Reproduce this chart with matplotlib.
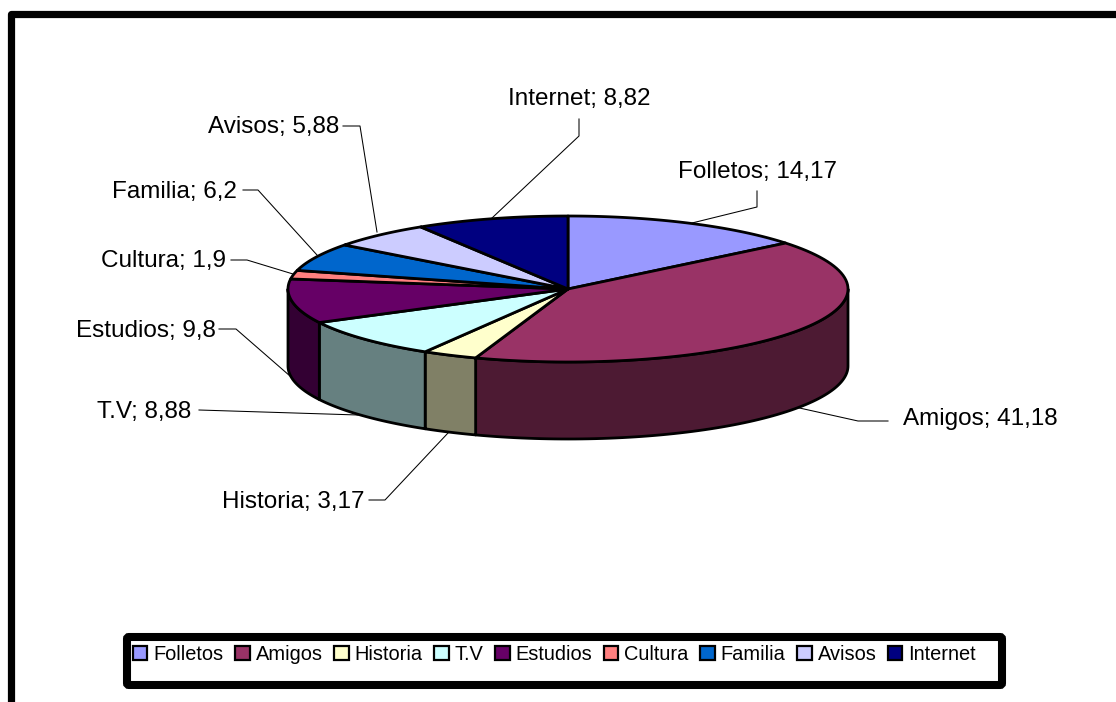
import numpy as np
import matplotlib
matplotlib.use("Agg")
import matplotlib.pyplot as plt
from matplotlib.patches import Polygon, FancyBboxPatch, Patch

plt.rcParams['font.family'] = ['Liberation Sans', 'DejaVu Sans']

categories = ['Folletos', 'Amigos', 'Historia', 'T.V', 'Estudios', 'Cultura', 'Familia', 'Avisos', 'Internet']
values = [14.17, 41.18, 3.17, 8.88, 9.8, 1.9, 6.2, 5.88, 8.82]
value_labels = ['14,17', '41,18', '3,17', '8,88', '9,8', '1,9', '6,2', '5,88', '8,82']
colors = ['#9999FF', '#993366', '#FFFFCC', '#CCFFFF', '#660066', '#FF8080', '#0066CC', '#CCCCFF', '#000080']

# pie geometry in pixels
cx, cy, rx, ry, depth = 568, 289, 280, 73, 77

# left edge and middle of each label, then its leader line
label_pos = {
    'Folletos': (678.5, 172),
    'Amigos': (903, 419),
    'Historia': (222, 502),
    'T.V': (97, 412),
    'Estudios': (76, 331),
    'Cultura': (101, 261),
    'Familia': (112, 192),
    'Avisos': (208, 127),
    'Internet': (508, 99),
}
leaders = {
    'Folletos': [(757, 191), (757, 207), (692, 223)],
    'Amigos': [(888, 421), (858, 421), (795, 407)],
    'Historia': [(369, 500), (385, 500), (448, 433)],
    'T.V': [(199, 410), (358, 415)],
    'Estudios': [(219, 329), (236, 329), (290, 376)],
    'Cultura': [(231, 260), (247, 260), (293, 274)],
    'Familia': [(243, 190), (258, 190), (317, 255)],
    'Avisos': [(343, 126), (360, 126), (377, 232)],
    'Internet': [(579, 119), (579, 136), (492, 218)],
}


def rim(a, b):
    t = np.radians(np.linspace(a, b, 80))
    return cx + rx * np.sin(t), cy - ry * np.cos(t)


fig = plt.figure(figsize=(11.16, 7.02), dpi=100)
ax = fig.add_axes([0, 0, 1, 1])
ax.set_xlim(0, 1116)
ax.set_ylim(702, 0)
ax.axis('off')

# outer chart border, open on the right and bottom
ax.plot([10.5, 10.5, 1120], [706, 13.5, 13.5], color='black', lw=5.2, solid_joinstyle='round', zorder=1)

for cat in categories:
    pts = np.array(leaders[cat])
    ax.plot(pts[:, 0], pts[:, 1], color='black', lw=0.75, zorder=2)

edges = np.concatenate([[0], np.cumsum(values)]) / sum(values) * 360

# side walls, only the front half shows
for i, cat in enumerate(categories):
    a, b = max(edges[i], 90), min(edges[i + 1], 270)
    if a >= b:
        continue
    x, y = rim(a, b)
    side = np.array(matplotlib.colors.to_rgb(colors[i])) * 0.5
    xy = np.vstack([np.c_[x, y], np.c_[x[::-1], y[::-1] + depth]])
    ax.add_patch(Polygon(xy, closed=True, facecolor=side, edgecolor='black', lw=2, joinstyle='round', zorder=3))

# top face
for i, cat in enumerate(categories):
    x, y = rim(edges[i], edges[i + 1])
    xy = np.vstack([[cx, cy], np.c_[x, y]])
    ax.add_patch(Polygon(xy, closed=True, facecolor=colors[i], edgecolor='black', lw=2, joinstyle='round', zorder=4))

for cat, val in zip(categories, value_labels):
    tx, ty = label_pos[cat]
    ax.text(tx, ty, f"{cat}; {val}", fontsize=17.45, ha='left', va='center', color='black', zorder=5)

# legend box
ax.add_patch(FancyBboxPatch((127, 637), 875, 48, boxstyle='round,pad=0,rounding_size=2',
                            facecolor='white', edgecolor='black', lw=5.8, zorder=5))
handles = [Patch(facecolor=c, edgecolor='black', lw=1.6) for c in colors]
ax.legend(handles, categories, ncol=9, frameon=False, fontsize=14.4, loc='upper left',
          bbox_to_anchor=(133, 645), bbox_transform=ax.transData, borderaxespad=0, borderpad=0,
          handlelength=0.72, handleheight=0.72, handletextpad=0.3, columnspacing=0.58).set_zorder(6)

fig.savefig('out.png', dpi=100, facecolor='white')
